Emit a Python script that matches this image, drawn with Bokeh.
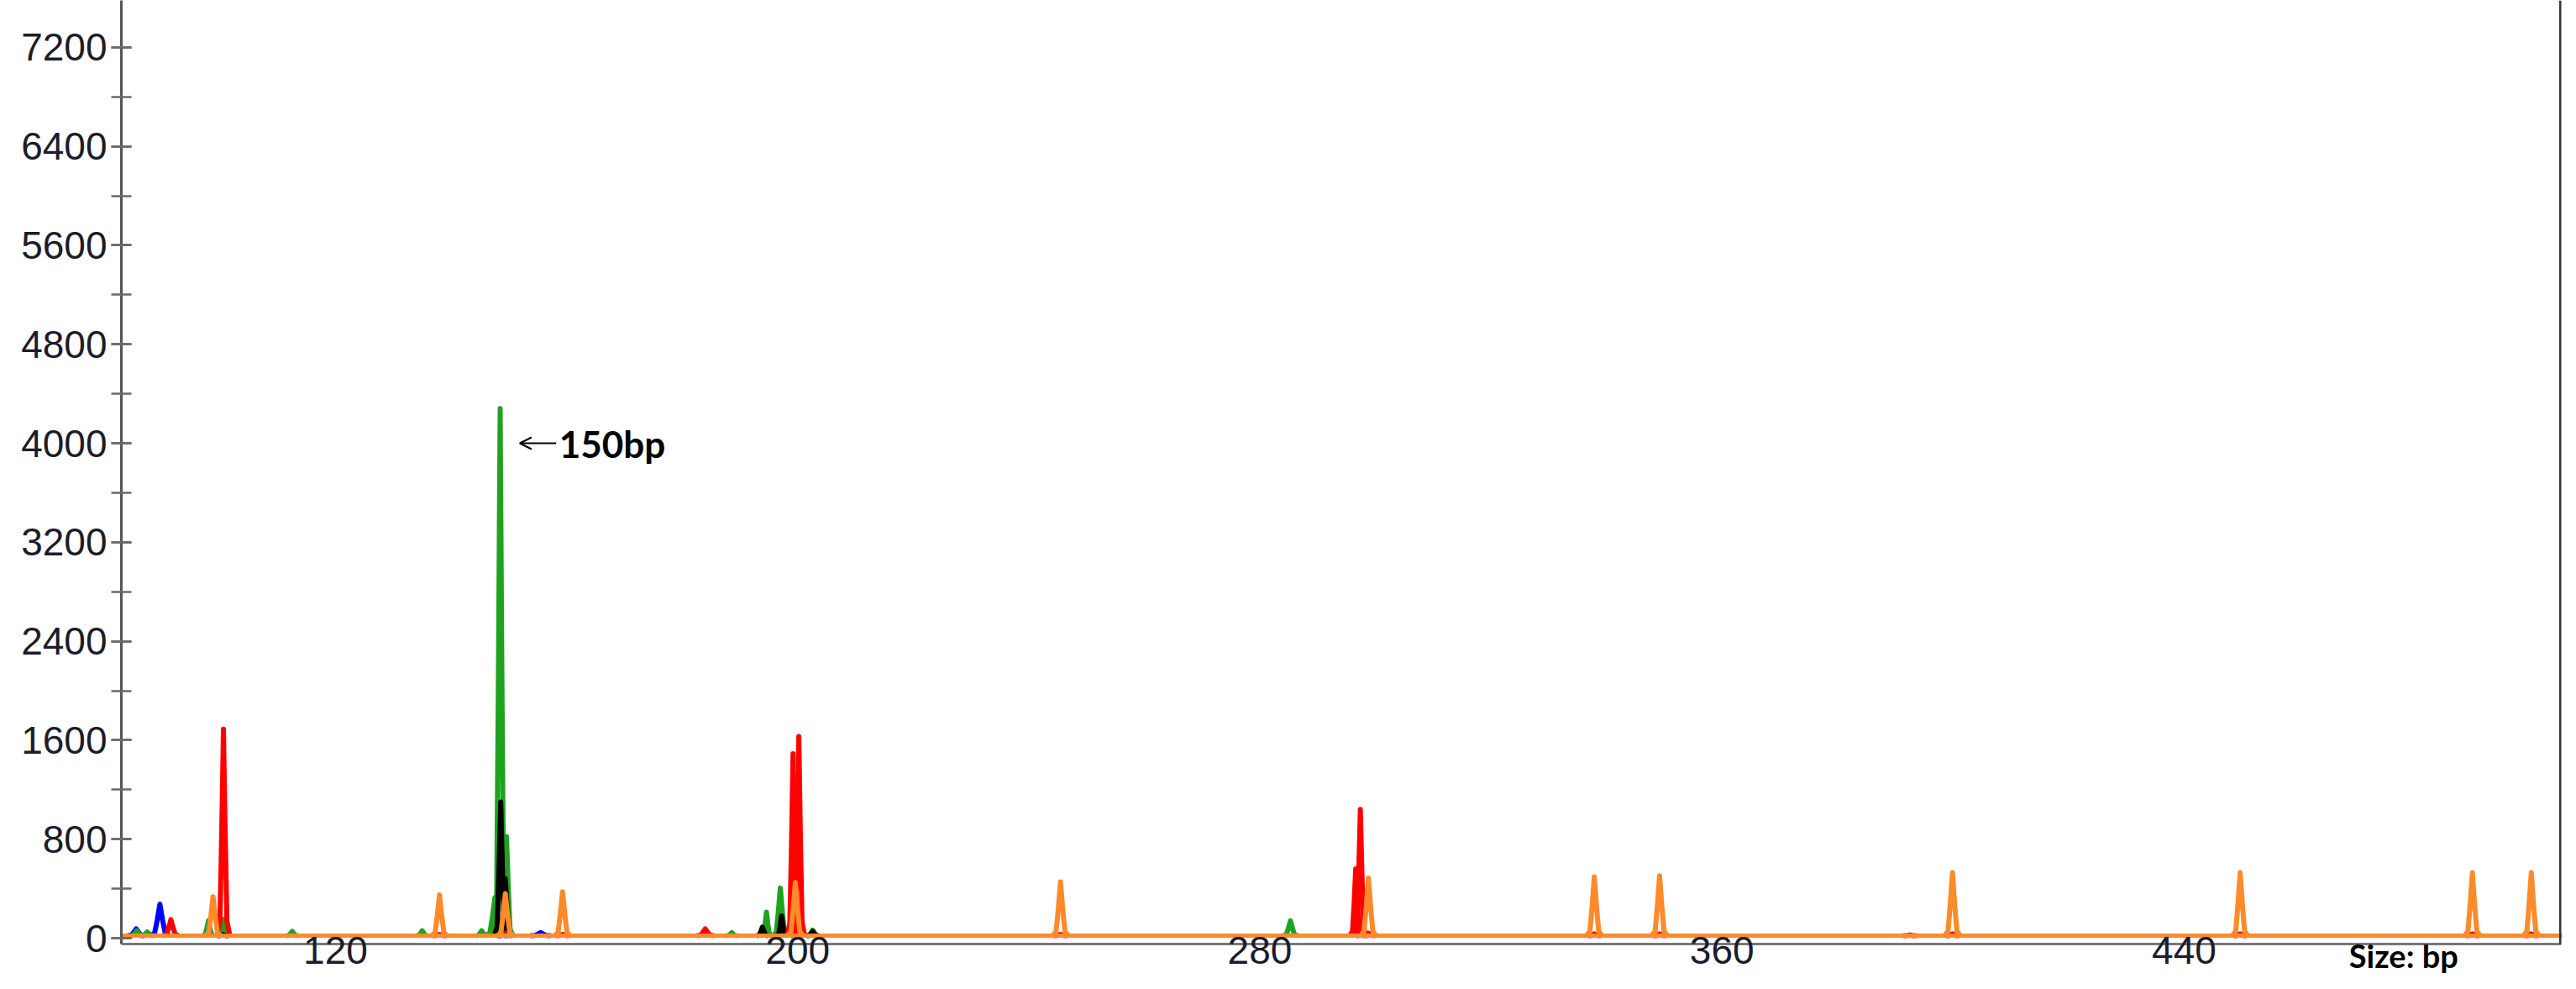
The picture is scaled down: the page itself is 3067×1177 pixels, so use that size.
from bokeh.plotting import figure
from bokeh.models import (Range1d, SingleIntervalTicker, FixedTicker, Label, Arrow, OpenHead,
                          LinearAxis)
from bokeh.embed import file_html
from bokeh.resources import INLINE

# ---------------- data ----------------
X_TICKS = [120, 200, 280, 360, 440]
Y_INTERVAL = 800
X_START, X_END = 82.93, 505.29
Y_AXIS_POS, Y_END = -47.5, 7579     # x-axis sits at Y_AXIS_POS
Y_START = -305.6                    # room below the x-axis for its labels

BASELINE = 20
# shape of one electropherogram peak: offsets (in half-widths) and relative levels
PEAK_OFFSETS = [-1.0, -0.55, -0.27, 0.0, 0.27, 0.55, 1.0]
PEAK_LEVELS = [0.0, 0.07, 0.5, 1.0, 0.5, 0.07, 0.0]

BLUE_BP = [85.5, 89.6, 148.9, 155.5]
BLUE_H = [75, 275, 25, 45]
BLUE_HW = [1.5, 1.7, 1.0, 1.8]

GREEN_BP = [85.6, 87.4, 98.0, 100.8, 112.5, 135.0, 145.3, 147.6, 148.5, 149.6,
            188.6, 193.8, 194.6, 197.0, 202.6, 285.3, 297.5]
GREEN_H = [60, 50, 140, 155, 55, 60, 60, 330, 4280, 820,
           45, 60, 210, 405, 65, 140, 120]
GREEN_HW = [1.2, 1.2, 1.0, 1.0, 1.0, 1.0, 1.0, 1.6, 1.1, 1.1,
            1.0, 0.9, 0.9, 1.3, 1.1, 1.3, 0.8]

BLACK_BP = [100.5, 148.6, 149.4, 193.9, 197.2, 199.6, 202.6, 297.7]
BLACK_H = [30, 1100, 480, 90, 180, 40, 55, 40]
BLACK_HW = [1.0, 1.1, 1.1, 1.0, 0.9, 0.8, 1.0, 1.0]

RED_BP = [91.5, 100.6, 138.0, 149.4, 159.3, 184.0, 199.2, 200.2, 245.5, 296.6,
          297.4, 298.8, 337.9, 349.2, 392.5, 399.9, 449.7, 489.9, 500.1]
RED_H = [150, 1690, 30, 40, 30, 75, 1490, 1630, 30, 560,
         1040, 40, 35, 35, 25, 35, 35, 35, 35]
RED_HW = [1.4, 1.1, 1.2, 1.2, 1.2, 1.5, 1.0, 1.0, 1.2, 1.0,
          1.0, 1.2, 1.2, 1.2, 1.2, 1.2, 1.2, 1.2, 1.2]

ORANGE_BP = [98.8, 138.0, 149.4, 159.3, 199.6, 245.5, 298.8, 337.9, 349.2,
             399.9, 449.7, 489.9, 500.1]
ORANGE_H = [335, 350, 360, 375, 450, 455, 485, 495, 505, 530, 530, 530, 530]
ORANGE_HW = [1.4, 1.4, 1.4, 1.4, 1.4, 1.4, 1.4, 1.4, 1.4, 1.4, 1.4, 1.4, 1.4]

DYES = [
    ("blue", "#0000ff", BLUE_BP, BLUE_H, BLUE_HW),
    ("green", "#1fa31f", GREEN_BP, GREEN_H, GREEN_HW),
    ("black", "#000000", BLACK_BP, BLACK_H, BLACK_HW),
    ("red", "#ff0000", RED_BP, RED_H, RED_HW),
    ("orange", "#ff8a2a", ORANGE_BP, ORANGE_H, ORANGE_HW),
]

ANNOT_BP, ANNOT_Y, ANNOT_TEXT = 148.5, 4000, "150bp"
AXIS_TITLE, AXIS_TITLE_BP, AXIS_TITLE_Y = "Size: bp", 478.0, -140

# ---------------- figure ----------------
p = figure(width=3051, height=1161, output_backend="svg", toolbar_location=None,
           x_range=Range1d(X_START, X_END), y_range=Range1d(Y_START, Y_END),
           min_border_left=144, min_border_right=2, min_border_top=0, min_border_bottom=0)
p.outline_line_color = None
p.xgrid.visible = False
p.ygrid.visible = False
p.background_fill_color = "white"
p.border_fill_color = "white"

TICK_FONT = "Liberation Sans"
TICK_COLOR = "#1c1c2c"

ya = p.yaxis[0]
ya.ticker = SingleIntervalTicker(interval=Y_INTERVAL, num_minor_ticks=2)
ya.bounds = (Y_AXIS_POS, Y_END)
ya.axis_line_color = "#555555"
ya.axis_line_width = 3
ya.major_tick_line_color = "#6a6a6a"
ya.minor_tick_line_color = "#6a6a6a"
ya.major_tick_line_width = 2.5
ya.minor_tick_line_width = 2.5
ya.major_tick_in = 12
ya.major_tick_out = 12
ya.minor_tick_in = 12
ya.minor_tick_out = 12
ya.major_label_standoff = 5
ya.major_label_text_font = TICK_FONT
ya.major_label_text_font_size = "46px"
ya.major_label_text_color = TICK_COLOR

xa = p.xaxis[0]
xa.ticker = FixedTicker(ticks=X_TICKS)
xa.fixed_location = Y_AXIS_POS
xa.axis_line_color = "#777777"
xa.axis_line_width = 3
xa.major_tick_line_color = None
xa.minor_tick_line_color = None
xa.major_tick_in = 0
xa.major_tick_out = 0
xa.major_label_standoff = -8
xa.major_label_text_font = TICK_FONT
xa.major_label_text_font_size = "46px"
xa.major_label_text_color = TICK_COLOR

# right border of the plot area, as a bare axis
rb = LinearAxis(ticker=FixedTicker(ticks=[]), fixed_location=X_END - 0.2,
                bounds=(Y_AXIS_POS, Y_END), axis_line_color="#333333", axis_line_width=3,
                major_tick_line_color=None, minor_tick_line_color=None,
                major_label_text_font_size="0px")
p.add_layout(rb, "right")

# traces
for name, color, bps, hs, hws in DYES:
    p.line([X_START, X_END], [BASELINE, BASELINE], line_color=color, line_width=5)
    xs = [[bp + o * hw for o in PEAK_OFFSETS] for bp, hw in zip(bps, hws)]
    ys = [[BASELINE + lv * (h - BASELINE) for lv in PEAK_LEVELS] for h in hs]
    p.multi_line(xs, ys, line_color=color, line_width=6, line_join="round")

# annotation
p.add_layout(Arrow(end=OpenHead(size=14, line_width=2, line_color="black"),
                   x_start=ANNOT_BP + 9.7, y_start=ANNOT_Y, x_end=ANNOT_BP + 3.4, y_end=ANNOT_Y,
                   line_width=2, line_color="black"))
p.add_layout(Label(x=ANNOT_BP + 10.2, y=ANNOT_Y, text=ANNOT_TEXT, text_font="Lato",
                   text_font_style="bold", text_font_size="44px", text_color="black",
                   text_baseline="middle", text_align="left"))

p.add_layout(Label(x=AXIS_TITLE_BP, y=AXIS_TITLE_Y, text=AXIS_TITLE, text_font="Lato",
                   text_font_style="bold", text_font_size="38px", text_color="black",
                   text_baseline="middle", text_align="center"))

open("out.html", "w").write(file_html(p, INLINE))
